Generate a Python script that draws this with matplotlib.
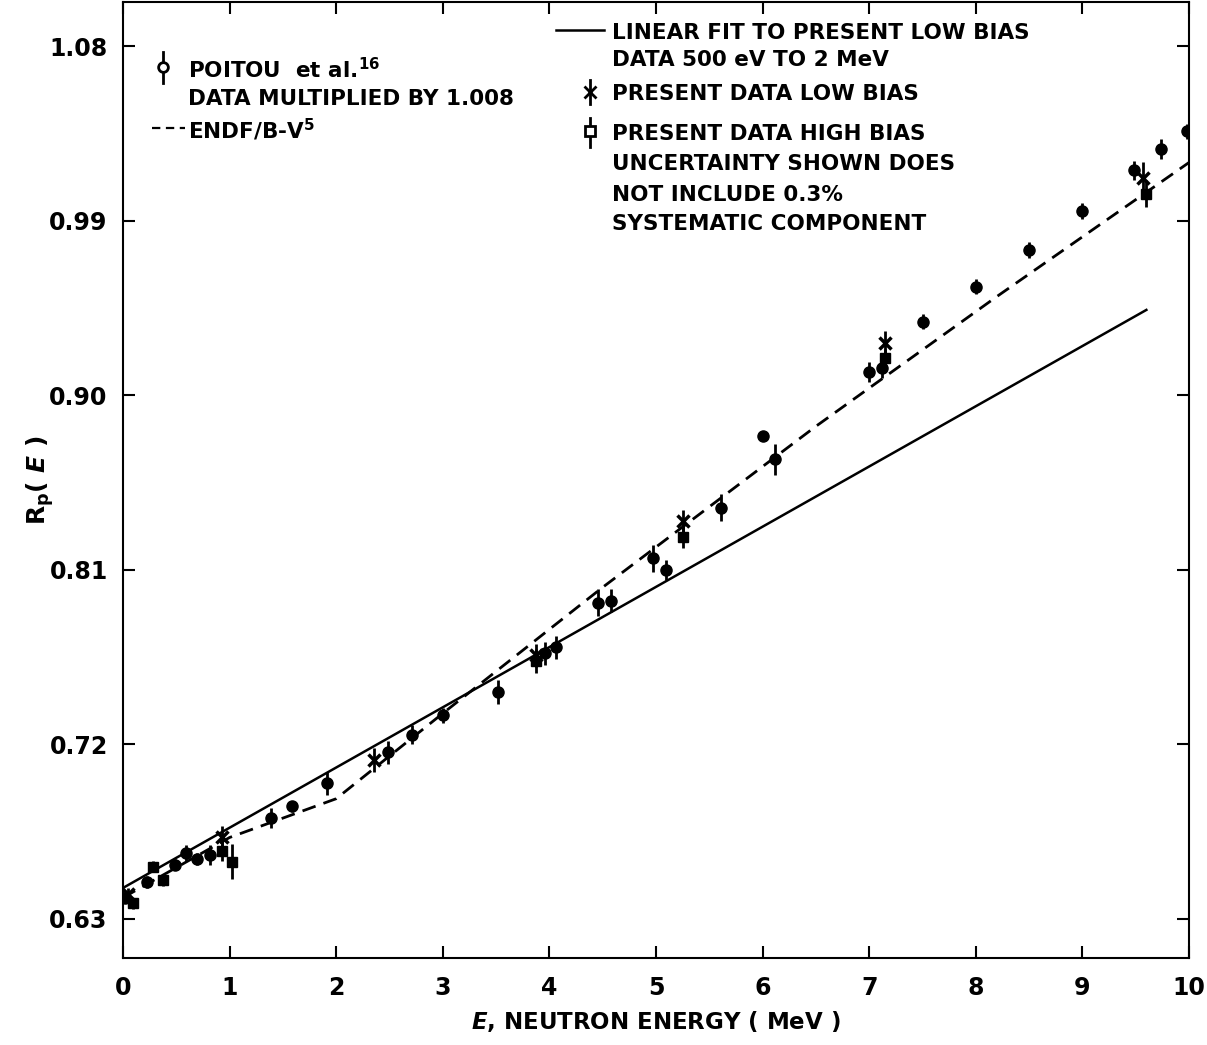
import matplotlib
matplotlib.use("Agg")
import matplotlib.pyplot as plt
import numpy as np

plt.rcParams['font.family'] = ['DejaVu Sans']
plt.rcParams['font.weight'] = 'bold'
plt.rcParams['axes.labelweight'] = 'bold'
plt.rcParams['mathtext.fontset'] = 'custom'
plt.rcParams['mathtext.rm'] = 'DejaVu Sans:bold'
plt.rcParams['mathtext.it'] = 'DejaVu Sans:italic:bold'
plt.rcParams['lines.scale_dashes'] = False

# Poitou et al. (data multiplied by 1.008)
poitou_E = [0.02, 0.225, 0.49, 0.59, 0.69, 0.815, 1.385, 1.59, 1.91, 2.49, 2.71, 3.0, 3.52, 3.96, 4.06,
            4.46, 4.575, 4.97, 5.09, 5.61, 6.0, 6.12, 7.0, 7.12, 7.5, 8.0, 8.5, 9.0, 9.48, 9.74, 9.98]
poitou_R = [0.641, 0.649, 0.658, 0.664, 0.661, 0.663, 0.682, 0.688, 0.700, 0.716, 0.725, 0.735, 0.747, 0.767, 0.770,
            0.793, 0.794, 0.816, 0.810, 0.842, 0.879, 0.867, 0.912, 0.914, 0.938, 0.956, 0.975, 0.995, 1.016, 1.027, 1.036]
poitou_err = [0.003, 0.003, 0.003, 0.004, 0.003, 0.005, 0.005, 0.003, 0.006, 0.006, 0.005, 0.004, 0.006, 0.006, 0.006,
              0.007, 0.006, 0.007, 0.005, 0.007, 0.0, 0.008, 0.005, 0.005, 0.004, 0.004, 0.004, 0.004, 0.005, 0.005, 0.004]

# present data, low bias
low_E = [0.05, 0.925, 2.355, 3.87, 5.25, 7.15, 9.57]
low_R = [0.643, 0.672, 0.712, 0.766, 0.835, 0.927, 1.012]
low_err = [0.003, 0.006, 0.006, 0.006, 0.006, 0.006, 0.008]

# present data, high bias
high_E = [0.09, 0.285, 0.375, 0.925, 1.025, 3.87, 5.25, 7.15, 9.6]
high_R = [0.638, 0.657, 0.650, 0.665, 0.6595, 0.763, 0.827, 0.919, 1.004]
high_err = [0.003, 0.003, 0.003, 0.005, 0.009, 0.006, 0.006, 0.005, 0.007]

# linear fit to present low bias data 500 eV to 2 MeV
fit_E = [0.0, 9.6]
fit_R = [0.646, 0.944]

# ENDF/B-V
endf_E = [0.0, 1.0, 2.0, 3.0, 4.5, 6.5, 8.2, 10.0]
endf_R = [0.641, 0.672, 0.692, 0.736, 0.801, 0.884, 0.951, 1.020]

x_ticks = np.arange(0, 11, 1)
y_ticks = [0.63, 0.72, 0.81, 0.90, 0.99, 1.08]

fig = plt.figure(figsize=(12.07, 10.45), dpi=100)
ax = fig.add_axes([0.1019, 0.0833, 0.8832, 0.9147])

ax.plot(fit_E, fit_R, color="k", lw=1.8)
ax.plot(endf_E, endf_R, color="k", lw=2, dashes=(10, 6))

ax.errorbar(poitou_E, poitou_R, yerr=poitou_err, fmt="o", color="k", ms=8, elinewidth=2, capsize=0)
ax.errorbar(low_E, low_R, yerr=low_err, fmt="x", color="k", ms=8, mew=2.5, elinewidth=2, capsize=0)
ax.errorbar(high_E, high_R, yerr=high_err, fmt="s", color="k", ms=7.5, elinewidth=2, capsize=0)

# legend, left block
fs = 15.5
ax.plot([0.375, 0.375], [1.061, 1.077], color="k", lw=2)
ax.plot([0.375], [1.069], "o", mfc="w", mec="k", ms=7, mew=2)
ax.text(0.61, 1.069, r"POITOU  et al.$^{\mathregular{16}}$", fontsize=fs, va="center_baseline")
ax.text(0.61, 1.0537, "DATA MULTIPLIED BY 1.008", fontsize=fs, va="center_baseline")
ax.plot([0.27, 0.58], [1.0377, 1.0377], color="k", lw=1.6, dashes=(6, 4))
ax.text(0.61, 1.0377, r"ENDF/B-V$^{\mathregular{5}}$", fontsize=fs, va="center_baseline")

# legend, right block
ax.plot([4.06, 4.51], [1.0882, 1.0882], color="k", lw=1.8)
ax.text(4.587, 1.0877, "LINEAR FIT TO PRESENT LOW BIAS", fontsize=fs, va="center_baseline")
ax.text(4.587, 1.0738, "DATA 500 eV TO 2 MeV", fontsize=fs, va="center_baseline")
ax.plot([4.38, 4.38], [1.050, 1.0625], color="k", lw=2)
ax.plot([4.38], [1.0563], "x", color="k", ms=8, mew=2)
ax.text(4.587, 1.0563, "PRESENT DATA LOW BIAS", fontsize=fs, va="center_baseline")
ax.plot([4.38, 4.38], [1.028, 1.043], color="k", lw=2)
ax.plot([4.38], [1.0362], "s", mfc="w", mec="k", ms=7, mew=2)
ax.text(4.587, 1.0357, "PRESENT DATA HIGH BIAS", fontsize=fs, va="center_baseline")
ax.text(4.587, 1.0202, "UNCERTAINTY SHOWN DOES", fontsize=fs, va="center_baseline")
ax.text(4.587, 1.0042, "NOT INCLUDE 0.3%", fontsize=fs, va="center_baseline")
ax.text(4.587, 0.9893, "SYSTEMATIC COMPONENT", fontsize=fs, va="center_baseline")

ax.set_xlim(0, 10)
ax.set_ylim(0.6099, 1.1027)
ax.set_xticks(x_ticks)
ax.set_xticklabels([str(t) for t in x_ticks])
ax.set_yticks(y_ticks)
ax.set_yticklabels(["%.2f" % t for t in y_ticks])
ax.tick_params(direction="in", length=8.5, width=1.5, top=True, right=True, labelsize=17)
ax.tick_params(axis="x", pad=13)
ax.tick_params(axis="y", pad=11)
for s in ax.spines.values():
    s.set_linewidth(1.5)

ax.set_xlabel(r"$\it{E}$, NEUTRON ENERGY ( MeV )", fontsize=16.5)
ax.set_ylabel(r"R$_{\mathregular{p}}$( $\it{E}$ )", fontsize=18)
ax.xaxis.set_label_coords(0.5, -0.053)
ax.yaxis.set_label_coords(-0.063, 0.5)

fig.savefig("out.png", dpi=100)
